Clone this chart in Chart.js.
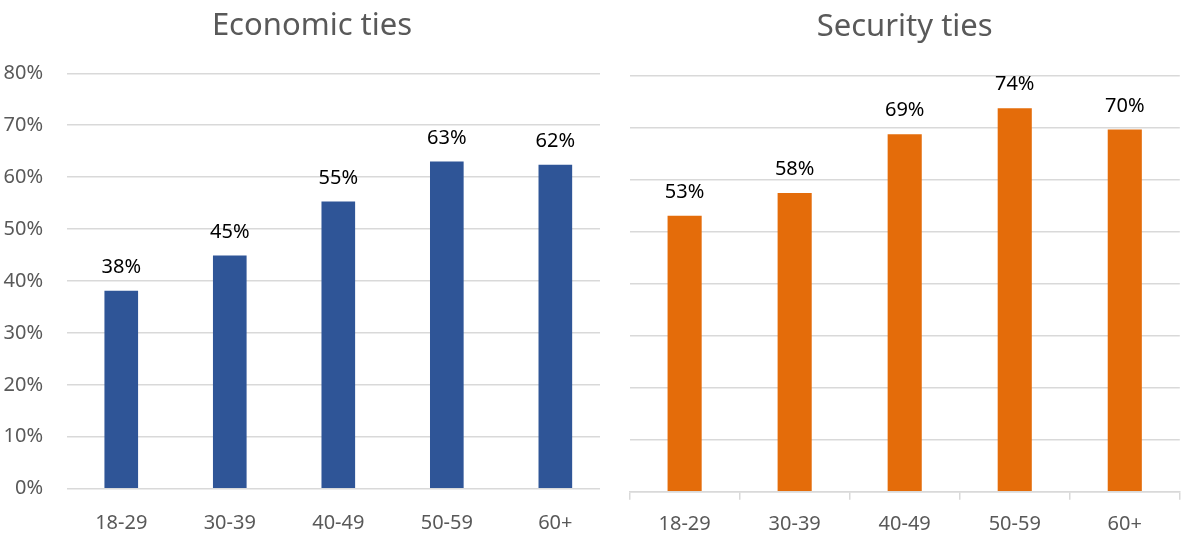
<!DOCTYPE html>
<html>
<head>
<meta charset="utf-8">
<script src="https://cdn.jsdelivr.net/npm/chart.js@4.4.1/dist/chart.umd.min.js"></script>
<style>
  html, body { margin: 0; padding: 0; background: #fff; }
  body { width: 1181px; height: 534px; position: relative; overflow: hidden; }
  #leftWrap { position: absolute; left: 0; top: 0; width: 600px; height: 534px; overflow: hidden; }
  #leftWrap canvas { position: absolute; left: 0; top: 0; }
  #chartEconomic { width: 625px !important; height: 534px !important; }
  #chartSecurity { position: absolute; left: 628px; top: 0; width: 553px !important; height: 534px !important; }
</style>
</head>
<body>
<div id="leftWrap"><canvas id="chartEconomic" width="625" height="534"></canvas></div>
<canvas id="chartSecurity" width="553" height="534"></canvas>
<script>
/* Age breakdown — two side-by-side bar panels */

const ageGroups     = ['18-29', '30-39', '40-49', '50-59', '60+'];
const economicTies  = [38.1, 44.9, 55.3, 63.0, 62.4];
const securityTies  = [53.1, 57.5, 68.8, 73.8, 69.7];
const yMax = 80;
const yStep = 10;

const FONT = 'Noto Sans';
const GREY = '#595959';
const GRID = '#D9D9D9';

// value labels above each bar
const barLabels = {
  id: 'barLabels',
  afterDatasetsDraw(chart) {
    const ctx = chart.ctx;
    ctx.save();
    ctx.font = `20px "${FONT}"`;
    ctx.fillStyle = '#000';
    ctx.textAlign = 'center';
    ctx.textBaseline = 'alphabetic';
    chart.getDatasetMeta(0).data.forEach((bar, i) => {
      const v = chart.data.datasets[0].data[i];
      ctx.fillText(Math.round(v) + '%', bar.x, bar.y - 18);
    });
    ctx.restore();
  }
};

// let y tick labels use the padding strip on the left (the scale clips labels to its own box)
const widenY = {
  id: 'widenY',
  afterLayout(chart) { chart.scales.y.left = 0; }
};

function panel(id, title, data, color, opts) {
  return new Chart(document.getElementById(id), {
    type: 'bar',
    data: {
      labels: ageGroups,
      datasets: [{ data: data, backgroundColor: color, barPercentage: 0.31, categoryPercentage: 1 }]
    },
    options: {
      responsive: false,
      animation: false,
      layout: { padding: opts.padding },
      plugins: {
        legend: { display: false },
        tooltip: { enabled: false },
        title: {
          display: true, text: title, color: GREY,
          font: { family: FONT, size: 31, weight: 'normal' },
          padding: opts.titlePad
        }
      },
      scales: {
        x: {
          grid: opts.xGrid,
          border: opts.xBorder,
          ticks: { color: GREY, font: { family: FONT, size: 20 }, padding: opts.xPad },
          afterFit: s => { s.height = opts.xHeight; }
        },
        y: {
          min: 0, max: yMax,
          grid: { color: GRID, lineWidth: 1.5, drawTicks: false },
          border: { display: false },
          ticks: {
            display: opts.yLabels, stepSize: yStep, padding: 24,
            color: GREY, font: { family: FONT, size: 20 },
            callback: v => v + '%'
          },
          afterFit: s => { s.width = opts.yWidth; }
        }
      }
    },
    plugins: [barLabels, widenY]
  });
}

panel('chartEconomic', 'Economic ties', economicTies, '#2F5597', {
  padding: { left: 14.4, right: 15.4, top: 0, bottom: 0 },
  titlePad: { top: 8, bottom: 28.1 },
  xGrid: { display: false },
  xBorder: { display: false },
  xPad: 15,
  xHeight: 45.3,
  yLabels: true,
  yWidth: 52.6
});

panel('chartSecurity', 'Security ties', securityTies, '#E46C0A', {
  padding: { left: 1.6, right: 1.2, top: 0, bottom: 0 },
  titlePad: { top: 9, bottom: 29.8 },
  xGrid: { display: true, drawOnChartArea: false, drawTicks: true, tickLength: 8, color: GRID, lineWidth: 1.5 },
  xBorder: { display: true, color: GRID, width: 1.5 },
  xPad: 13,
  xHeight: 42.3,
  yLabels: false,
  yWidth: 0
});
</script>
</body>
</html>
